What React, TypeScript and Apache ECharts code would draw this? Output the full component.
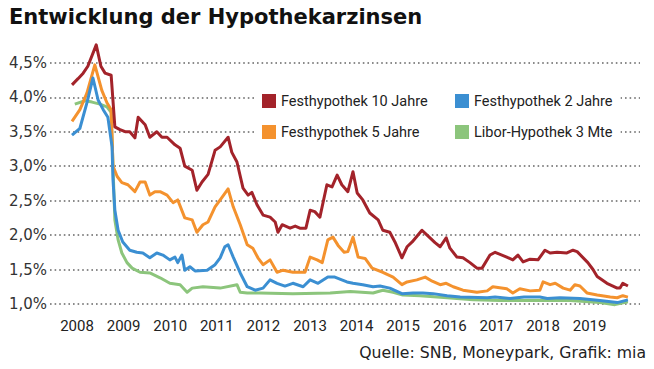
import React, { useEffect, useRef } from "react";
import * as echarts from "echarts";

const TITLE = "Entwicklung der Hypothekarzinsen";
const SOURCE = "Quelle: SNB, Moneypark, Grafik: mia";
const YEAR_TICKS = [2008, 2009, 2010, 2011, 2012, 2013, 2014, 2015, 2016, 2017, 2018, 2019];
const PCT_TICKS = [1.0, 1.5, 2.0, 2.5, 3.0, 3.5, 4.0, 4.5];
const NAMES = ["Festhypothek 10 Jahre", "Festhypothek 2 Jahre", "Festhypothek 5 Jahre", "Libor-Hypothek 3 Mte"];
const COLORS = ["#a3232a", "#3b8fd2", "#f4922e", "#8cc57c"];

const fest10: [number, number][] = [
  [2008.0, 4.18], [2008.13, 4.27], [2008.24, 4.35], [2008.34, 4.45], [2008.52, 4.76], [2008.62, 4.45],
  [2008.71, 4.35], [2008.84, 4.32], [2008.92, 3.57], [2009.03, 3.53], [2009.14, 3.5], [2009.24, 3.5],
  [2009.35, 3.41], [2009.42, 3.71], [2009.57, 3.6], [2009.67, 3.42], [2009.82, 3.5], [2009.93, 3.42],
  [2010.04, 3.42], [2010.21, 3.31], [2010.32, 3.26], [2010.42, 3.0], [2010.58, 2.94], [2010.68, 2.65],
  [2010.79, 2.77], [2010.92, 2.88], [2011.07, 3.23], [2011.18, 3.28], [2011.35, 3.42], [2011.43, 3.2],
  [2011.54, 3.06], [2011.67, 2.68], [2011.78, 2.58], [2011.86, 2.62], [2011.97, 2.44], [2012.1, 2.29],
  [2012.25, 2.26], [2012.36, 2.19], [2012.42, 2.04], [2012.51, 2.15], [2012.68, 2.1], [2012.79, 2.13],
  [2012.89, 2.1], [2013.02, 2.1], [2013.11, 2.36], [2013.21, 2.34], [2013.32, 2.26], [2013.47, 2.73],
  [2013.58, 2.7], [2013.69, 2.87], [2013.79, 2.73], [2013.92, 2.63], [2014.03, 2.92], [2014.12, 2.61],
  [2014.24, 2.51], [2014.39, 2.32], [2014.57, 2.22], [2014.67, 2.07], [2014.82, 2.04], [2014.93, 1.9],
  [2015.08, 1.67], [2015.19, 1.83], [2015.3, 1.9], [2015.51, 2.07], [2015.62, 2.0], [2015.79, 1.89],
  [2015.9, 1.83], [2016.03, 1.96], [2016.11, 1.81], [2016.26, 1.68], [2016.39, 1.67], [2016.54, 1.6],
  [2016.69, 1.52], [2016.8, 1.52], [2016.97, 1.71], [2017.08, 1.75], [2017.33, 1.68], [2017.46, 1.64],
  [2017.57, 1.71], [2017.68, 1.61], [2017.83, 1.65], [2018.0, 1.64], [2018.15, 1.78], [2018.26, 1.74],
  [2018.41, 1.75], [2018.62, 1.74], [2018.75, 1.78], [2018.84, 1.76], [2019.07, 1.6], [2019.18, 1.5],
  [2019.27, 1.4], [2019.48, 1.3], [2019.7, 1.23], [2019.76, 1.23], [2019.82, 1.3], [2019.93, 1.26],
];

const fest5: [number, number][] = [
  [2008.0, 3.65], [2008.17, 3.82], [2008.32, 4.06], [2008.49, 4.47], [2008.64, 4.1], [2008.75, 3.92],
  [2008.84, 3.82], [2008.88, 3.0], [2008.97, 2.85], [2009.07, 2.76], [2009.2, 2.73], [2009.35, 2.63],
  [2009.46, 2.77], [2009.57, 2.77], [2009.67, 2.58], [2009.78, 2.63], [2009.89, 2.63], [2010.04, 2.58],
  [2010.17, 2.47], [2010.27, 2.51], [2010.42, 2.25], [2010.58, 2.22], [2010.68, 2.04], [2010.81, 2.15],
  [2010.92, 2.19], [2011.07, 2.41], [2011.18, 2.51], [2011.35, 2.67], [2011.46, 2.41], [2011.61, 2.15],
  [2011.76, 1.86], [2011.88, 1.81], [2011.99, 1.67], [2012.1, 1.57], [2012.25, 1.64], [2012.4, 1.46],
  [2012.53, 1.49], [2012.74, 1.46], [2013.0, 1.46], [2013.11, 1.68], [2013.26, 1.64], [2013.37, 1.6],
  [2013.49, 1.93], [2013.6, 1.97], [2013.71, 1.85], [2013.84, 1.75], [2013.92, 1.76], [2014.03, 1.97],
  [2014.14, 1.68], [2014.29, 1.66], [2014.44, 1.52], [2014.67, 1.46], [2014.89, 1.39], [2015.08, 1.28],
  [2015.19, 1.32], [2015.4, 1.35], [2015.58, 1.39], [2015.73, 1.33], [2015.9, 1.28], [2016.03, 1.3],
  [2016.18, 1.25], [2016.39, 1.2], [2016.69, 1.17], [2016.91, 1.19], [2017.03, 1.25], [2017.33, 1.22],
  [2017.46, 1.16], [2017.61, 1.22], [2017.83, 1.19], [2018.04, 1.2], [2018.11, 1.32], [2018.26, 1.28],
  [2018.37, 1.3], [2018.54, 1.23], [2018.69, 1.2], [2018.79, 1.28], [2018.9, 1.26], [2019.05, 1.16],
  [2019.27, 1.13], [2019.55, 1.1], [2019.7, 1.09], [2019.82, 1.12], [2019.93, 1.1],
];

const fest2: [number, number][] = [
  [2008.0, 3.45], [2008.17, 3.55], [2008.32, 3.92], [2008.45, 4.28], [2008.56, 3.96], [2008.67, 3.82],
  [2008.77, 3.71], [2008.86, 3.28], [2008.88, 2.8], [2008.92, 2.36], [2008.99, 2.07], [2009.09, 1.9],
  [2009.24, 1.78], [2009.39, 1.75], [2009.52, 1.74], [2009.67, 1.67], [2009.82, 1.74], [2009.95, 1.71],
  [2010.1, 1.64], [2010.21, 1.68], [2010.27, 1.6], [2010.36, 1.71], [2010.42, 1.49], [2010.53, 1.54],
  [2010.64, 1.48], [2010.9, 1.49], [2011.07, 1.57], [2011.18, 1.67], [2011.28, 1.83], [2011.35, 1.86],
  [2011.46, 1.68], [2011.61, 1.45], [2011.76, 1.25], [2011.93, 1.2], [2012.1, 1.23], [2012.25, 1.35],
  [2012.4, 1.3], [2012.57, 1.26], [2012.74, 1.3], [2012.96, 1.25], [2013.11, 1.35], [2013.28, 1.3],
  [2013.49, 1.39], [2013.64, 1.39], [2013.79, 1.35], [2013.9, 1.32], [2014.03, 1.3], [2014.24, 1.28],
  [2014.46, 1.25], [2014.61, 1.26], [2014.82, 1.23], [2015.08, 1.15], [2015.32, 1.16], [2015.53, 1.16],
  [2015.75, 1.15], [2016.05, 1.12], [2016.33, 1.1], [2016.91, 1.09], [2017.08, 1.1], [2017.4, 1.08],
  [2017.7, 1.1], [2018.04, 1.1], [2018.2, 1.08], [2018.47, 1.09], [2018.9, 1.08], [2019.33, 1.05],
  [2019.7, 1.02], [2019.93, 1.06],
];

const libor3: [number, number][] = [
  [2008.06, 3.9], [2008.28, 3.95], [2008.43, 3.93], [2008.6, 3.9], [2008.75, 3.86], [2008.84, 3.78],
  [2008.92, 2.22], [2008.99, 1.93], [2009.07, 1.74], [2009.18, 1.6], [2009.29, 1.52], [2009.46, 1.46],
  [2009.67, 1.45], [2009.89, 1.38], [2010.1, 1.3], [2010.32, 1.28], [2010.47, 1.17], [2010.58, 1.23],
  [2010.81, 1.25], [2011.18, 1.23], [2011.54, 1.28], [2011.61, 1.17], [2011.76, 1.16], [2012.03, 1.16],
  [2012.74, 1.15], [2013.54, 1.16], [2013.97, 1.18], [2014.46, 1.16], [2014.67, 1.2], [2014.89, 1.17],
  [2015.1, 1.13], [2015.47, 1.12], [2016.05, 1.09], [2016.61, 1.06], [2017.18, 1.05], [2018.04, 1.05],
  [2018.69, 1.05], [2019.33, 1.02], [2019.65, 0.99], [2019.93, 1.03],
];

const SERIES_DATA = [fest10, fest2, fest5, libor3];
const DRAW_ORDER = [3, 2, 1, 0];

export default function App() {
  const ref = useRef<HTMLDivElement>(null);
  useEffect(() => {
    if (!ref.current) return;
    const chart = echarts.init(ref.current, null, { renderer: "svg" });
    const font = "Roboto";
    const series: any[] = DRAW_ORDER.map((i, k) => {
      const s: any = {
        name: NAMES[i],
        type: "line",
        data: SERIES_DATA[i],
        showSymbol: false,
        symbol: "none",
        lineStyle: { color: COLORS[i], width: 3, join: "round" },
        itemStyle: { color: COLORS[i] },
        z: 3 + k,
      };
      if (k === 0) {
        s.markLine = {
          silent: true,
          symbol: "none",
          label: { show: false },
          lineStyle: { color: "#666", width: 1.6, type: [1.6, 3] },
          data: PCT_TICKS.map((v) => ({ yAxis: v })),
          z: 1,
        };
      }
      return s;
    });
    const legendBase = {
      orient: "vertical",
      top: 87,
      itemWidth: 14,
      itemHeight: 14,
      itemGap: 15,
      icon: "rect",
      backgroundColor: "#ffffff",
      selectedMode: false,
      z: 10,
      textStyle: { fontSize: 14.5, color: "#222", fontFamily: font, lineHeight: 16 },
    };
    chart.setOption({
      animation: false,
      grid: { left: 50, right: 14, top: 38.7, bottom: 54.7, containLabel: false },
      xAxis: {
        type: "value",
        min: 2007.528,
        max: 2020.189,
        axisLine: { show: false },
        axisTick: { show: false },
        splitLine: { show: false },
        axisLabel: {
          customValues: YEAR_TICKS,
          formatter: (v: number) => String(Math.round(v)),
          fontSize: 15,
          fontFamily: font,
          color: "#222",
          margin: 4,
          padding: [0, 0, 0, 10],
        },
      },
      yAxis: {
        type: "value",
        min: 0.85,
        max: 4.85,
        axisLine: { show: false },
        axisTick: { show: false },
        splitLine: { show: false },
        axisLabel: {
          customValues: PCT_TICKS,
          formatter: (v: number) => v.toFixed(1).replace(".", ",") + "%",
          fontSize: 15,
          fontFamily: "DejaVu Sans",
          color: "#333",
          margin: 3,
        },
      },
      legend: [
        { ...legendBase, left: 254, padding: [6, 26, 6, 8], data: [NAMES[0], NAMES[2]] },
        { ...legendBase, left: 447, padding: [6, 8, 6, 8], data: [NAMES[1], NAMES[3]] },
      ],
      graphic: [
        {
          type: "text",
          left: 9,
          top: 6,
          style: { text: TITLE, fontSize: 21, fontWeight: "bold", fontFamily: "DejaVu Sans", fill: "#111" },
        },
        {
          type: "text",
          right: 8,
          top: 344,
          style: { text: SOURCE, fontSize: 15.7, fontFamily: "DejaVu Sans", fill: "#222" },
        },
      ],
      series,
    });
    return () => chart.dispose();
  }, []);
  return (
    <div
      ref={ref}
      style={{ position: "fixed", left: 0, top: 0, width: 654, height: 369, background: "#fff" }}
    />
  );
}
